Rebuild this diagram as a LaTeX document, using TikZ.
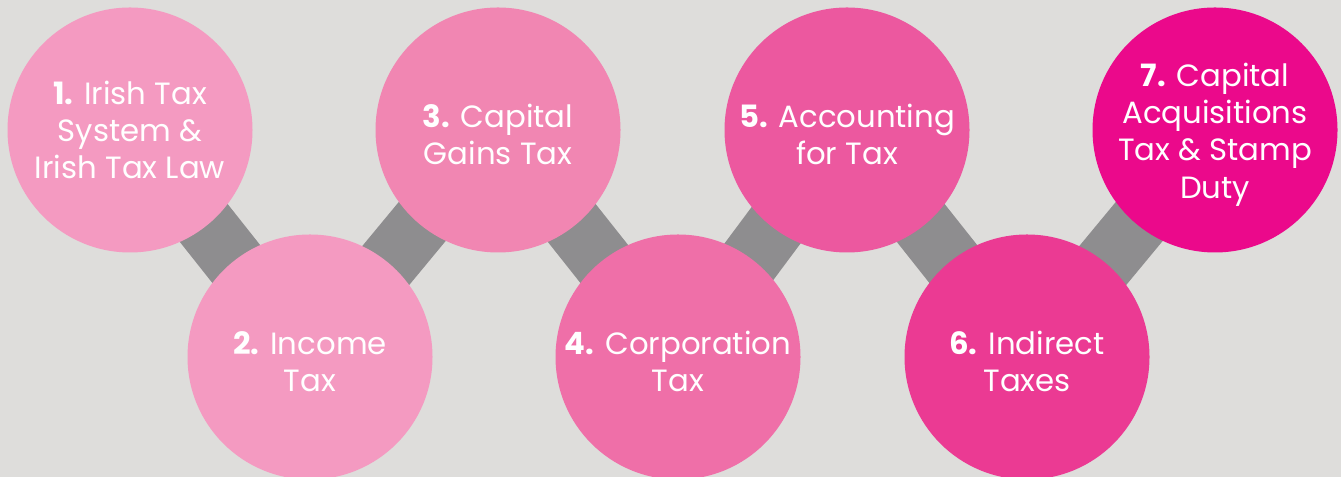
\documentclass[tikz,border=0pt]{standalone}
\usepackage{fontspec}
\setmainfont{Poppins}
\usetikzlibrary{backgrounds}
\definecolor{bgGrey}{HTML}{DEDDDB}
\definecolor{barGrey}{HTML}{8E8D8F}
\definecolor{pinkA}{HTML}{F49AC1}
\definecolor{pinkB}{HTML}{F186B2}
\definecolor{pinkC}{HTML}{EF6FA8}
\definecolor{pinkD}{HTML}{EC589F}
\definecolor{pinkE}{HTML}{EB3A93}
\definecolor{pinkF}{HTML}{EB098B}
\begin{document}
\begin{tikzpicture}[topic/.style={shape=circle, fill=#1, minimum size=4.9cm, inner sep=0pt}, topictext/.style={text=white, align=center, yshift=-0.09cm, font=\fontsize{17.5}{21.3}\selectfont}, link/.style={line width=1.22cm, draw=barGrey}]
\useasboundingbox (0,0) rectangle (26.82,9.54);
\node[topic=pinkA, label={[topictext, yshift=0.09cm]center:\textbf{1.} Irish Tax\\System \&\\Irish Tax Law}] (1) at (2.6,6.94) {};
\node[topic=pinkA, label={[topictext]center:\textbf{2.} Income\\Tax}] (2) at (6.2,2.4) {};
\node[topic=pinkB, label={[topictext]center:\textbf{3.} Capital\\Gains Tax}] (3) at (9.96,6.94) {};
\node[topic=pinkC, label={[topictext]center:\textbf{4.} Corporation\\Tax}] (4) at (13.56,2.4) {};
\node[topic=pinkD, label={[topictext]center:\textbf{5.} Accounting\\for Tax}] (5) at (16.94,6.94) {};
\node[topic=pinkE, label={[topictext]center:\textbf{6.} Indirect\\Taxes}] (6) at (20.54,2.4) {};
\node[topic=pinkF, label={[topictext]center:\textbf{7.} Capital\\Acquisitions\\Tax \& Stamp\\Duty}] (7) at (24.3,6.94) {};
\begin{pgfonlayer}{background}
\fill[bgGrey] (0,0) rectangle (26.82,9.54);
\path [link] (1.center) -- (2.center);
\path [link] (2.center) -- (3.center);
\path [link] (3.center) -- (4.center);
\path [link] (4.center) -- (5.center);
\path [link] (5.center) -- (6.center);
\path [link] (6.center) -- (7.center);
\end{pgfonlayer}
\end{tikzpicture}
\end{document}
